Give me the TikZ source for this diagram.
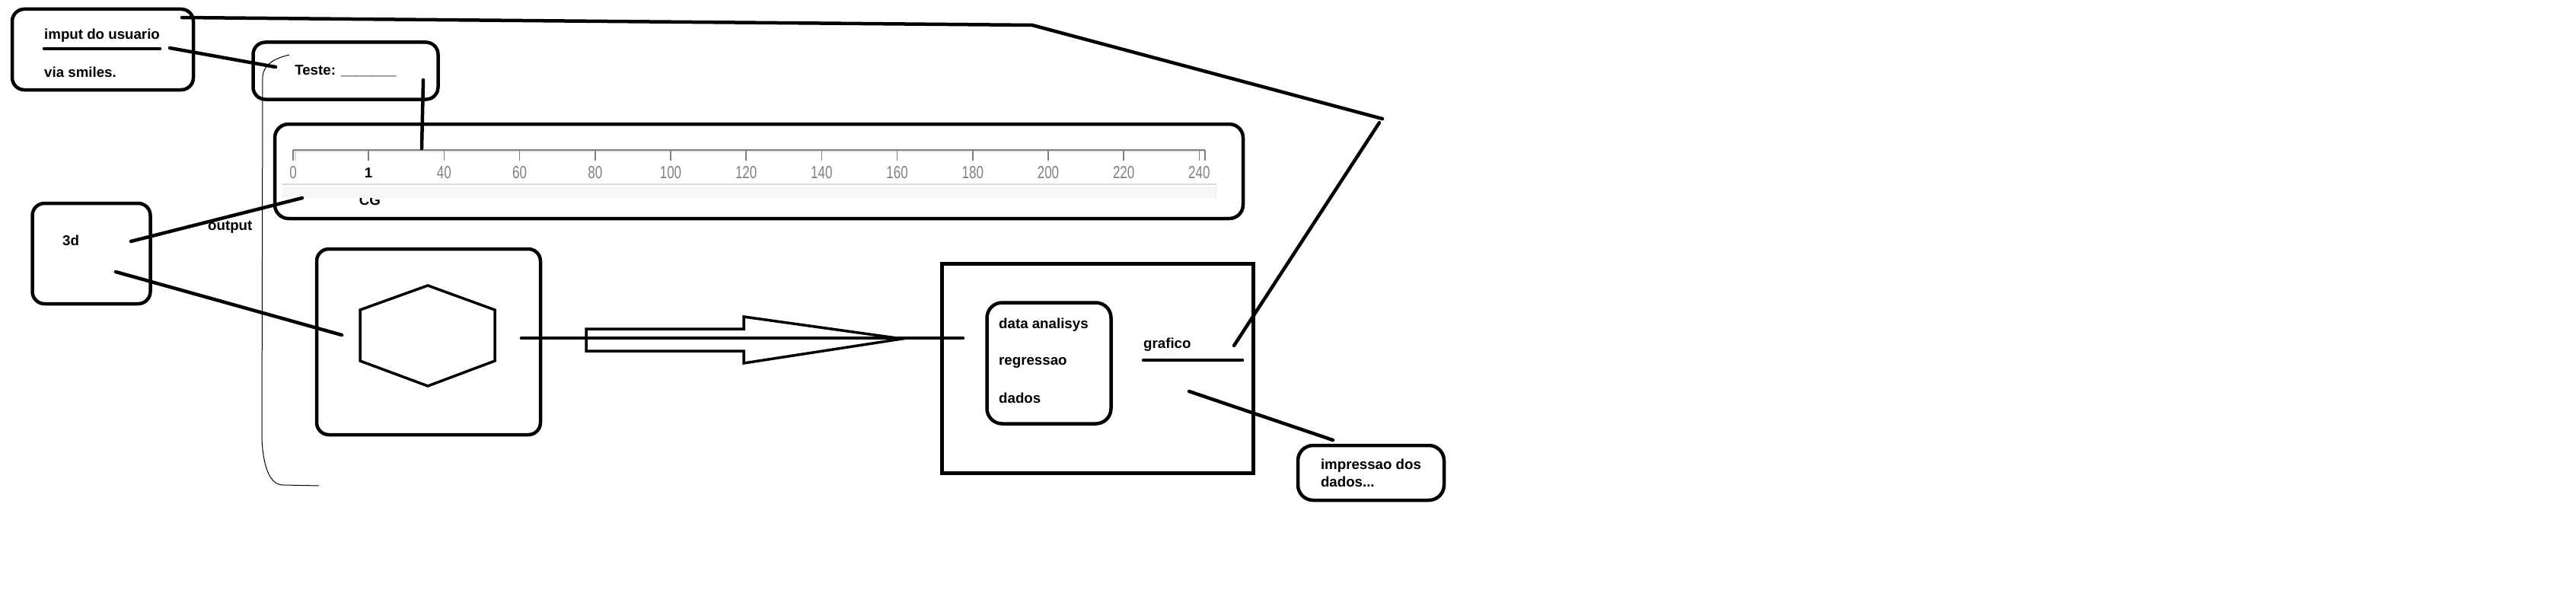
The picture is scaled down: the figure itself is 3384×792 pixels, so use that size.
\documentclass[tikz,border=0pt]{standalone}
\usepackage{fontspec}
\setmainfont{Liberation Sans}
\newfontfamily\rulerfont[FakeStretch=0.74]{Liberation Sans}
\definecolor{rulergray}{HTML}{808080}
\definecolor{rulerlight}{HTML}{DADADA}
\definecolor{rulerband}{HTML}{F7F7F7}

\begin{document}
\begin{tikzpicture}[x=1pt,y=-1pt,
            caixa/.style={draw, line width=4.5pt, rounded corners=16pt, inner sep=0pt},
            quadro/.style={draw, line width=4.5pt, inner sep=0pt},
            txt/.style={font=\fontsize{18.7}{23}\selectfont\bfseries, inner sep=0pt},
            rotulo/.style={font=\fontsize{23}{23}\selectfont\rulerfont, text=rulergray, inner sep=0pt},
            fio/.style={line width=4.5pt, line cap=round},
            marca/.style={draw=rulergray, line width=1.5pt}]

            %\draw [help lines] (0,0) grid (3384,792);

            \useasboundingbox [fill=white] (0,0) rectangle (3384,792);

            % caixas
            \path   (135,65) node (imput) [caixa, minimum width=238, minimum height=106] {}
                    (454,93) node (teste) [caixa, txt, minimum width=243, minimum height=75] {Teste: \_\_\_\_\_\_\_}
                    (997,225) node (regua) [caixa, rounded corners=18pt, minimum width=1272, minimum height=124] {}
                    (120,333) node (tresd) [caixa, minimum width=155, minimum height=132] {}
                    (563,449) node (hexbox) [caixa, minimum width=294, minimum height=244] {}
                    (1442,484) node (analise) [quadro, minimum width=409, minimum height=275] {}
                    (1378,477) node (dados) [caixa, rounded corners=20pt, minimum width=163, minimum height=159] {}
                    (1801,621) node (impressao) [caixa, txt, rounded corners=20pt, align=left, minimum width=192, minimum height=72] {impressao dos\\dados...};

            % textos
            \path   (58,47) node (imputtxt) [txt, anchor=west] {imput do usuario}
                    (58,95) node (smiles) [txt, anchor=west] {via smiles.}
                    (82,316) node (tresdtxt) [txt, anchor=west] {3d}
                    (273,298) node (output) [txt, anchor=west] {output}
                    (486,263) node (cg) [txt] {CG}
                    (1312,427) node (analisys) [txt, anchor=west] {data analisys}
                    (1312,476) node (regressao) [txt, anchor=west] {regressao}
                    (1312,523) node (dadostxt) [txt, anchor=west] {dados}
                    (1502,453) node (grafico) [txt, anchor=west] {grafico};

            % regua
            \fill [rulerlight!60] (385,197) rectangle (1583,200);
            \draw [marca] (385,197) -- (1583,197);
            \foreach \k in {0,...,12}
                \draw [marca] (385+99.2*\k,197) -- ++(0,14);
            \draw [marca, rulerlight] (388,198) -- ++(0,13);
            \draw [marca] (1583,197) -- ++(0,14);
            \foreach \k/\lab in {0/0,2/40,3/60,4/80,5/100,6/120,7/140,8/160,9/180,10/200,11/220,12/240}
                \path (385+99.2*\k,227) node (r\k) [rotulo] {\lab};
            \path (484,227) node (r1) [txt] {1};
            \draw [rulerlight, line width=2pt] (370,242) -- (1599,242);
            \fill [rulerband] (370,245) rectangle (1597,260);
            \draw [rulerlight!50, line width=1pt] (1597,245) -- (1597,260);

            % hexagono
            \draw [line width=3.5pt, line join=miter]
                    (562,375) -- (650,407) -- (650,474) -- (562,507) -- (473,474) -- (473,407) -- cycle;

            % pontos soltos dos fios
            \coordinate (imputsai) at (223,63);
            \coordinate (testeentra) at (362,88);
            \coordinate (testesai) at (556,105);
            \coordinate (reguaentra) at (554,195);
            \coordinate (tresdsai) at (172,317);
            \coordinate (reguacg) at (397,260);
            \coordinate (tresdhex) at (152,357);
            \coordinate (hexentra) at (449,440);
            \coordinate (hexsai) at (685,444);
            \coordinate (analiseentra) at (1265,444);
            \coordinate (topoinicio) at (239,23);
            \coordinate (topoquebra) at (1356,33);
            \coordinate (topocanto) at (1816,156);
            \coordinate (topodesce) at (1812,161);
            \coordinate (graficofim) at (1621,454);
            \coordinate (graficoa) at (1502,473);
            \coordinate (graficob) at (1632,473);
            \coordinate (impressaosai) at (1562,514);
            \coordinate (impressaoentra) at (1751,578);

            % fios
            \draw [fio] (imputtxt.south west) ++(0,8) -- ++(152,0);
            \draw [fio] (imputsai) -- (testeentra);
            \draw [fio] (testesai) -- (reguaentra);
            \draw [fio] (tresdsai) -- (reguacg);
            \draw [fio] (tresdhex) -- (hexentra);
            \draw [fio] (hexsai) -- (analiseentra);
            \draw [fio] (topoinicio) -- (topoquebra) -- (topocanto);
            \draw [fio] (topodesce) -- (graficofim);
            \draw [fio] (graficoa) -- (graficob);
            \draw [fio] (impressaosai) -- (impressaoentra);

            % seta grande
            \draw [line width=3.5pt, line join=miter]
                    (770,432) -- (977,432) -- (977,416) -- (1185,445) -- (977,477) -- (977,461) -- (770,461) -- cycle;

            % linha fina
            \draw [line width=1pt] (380,72) .. controls (360,77) and (347,84) .. (345,100)
                    -- (344,577) .. controls (346,615) and (355,637) .. (372,637) -- (419,638);

        \end{tikzpicture}
\end{document}
